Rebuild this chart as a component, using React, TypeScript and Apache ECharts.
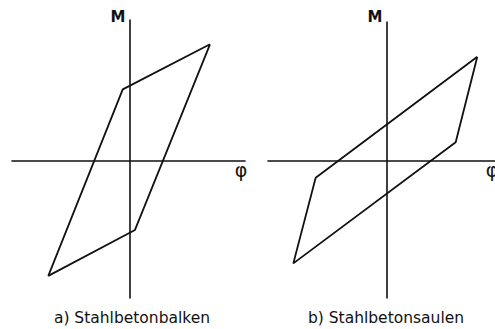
import React, { useEffect, useRef } from "react";
import * as echarts from "echarts";

// Panel a) Stahlbetonbalken: hysteresis loop vertices [phi, M] (relative units)
const beamLoop: [number, number][] = [
  [1.0, 1.0],
  [-0.084, 0.613],
  [-1.009, -0.99],
  [0.068, -0.595],
  [1.0, 1.0],
];
// Panel b) Stahlbetonsaulen
const columnLoop: [number, number][] = [
  [1.0, 1.0],
  [0.762, 0.177],
  [-1.026, -0.987],
  [-0.78, -0.163],
  [1.0, 1.0],
];
const captions = ["a) Stahlbetonbalken", "b) Stahlbetonsaulen"];
const axisNames = { x: "φ", y: "M" };

const FONT = '"DejaVu Sans", sans-serif';

export default function App() {
  const ref = useRef<HTMLDivElement>(null);
  useEffect(() => {
    if (!ref.current) return;
    const chart = echarts.init(ref.current, undefined, { renderer: "svg" });
    const axisLine = { show: true, onZero: true, lineStyle: { color: "#111", width: 1.6 } };
    const common = {
      type: "value" as const,
      axisTick: { show: false },
      axisLabel: { show: false },
      splitLine: { show: false },
      axisLine,
    };
    const xName = (gap: number) => ({
      name: axisNames.x,
      nameLocation: "end" as const,
      nameGap: gap,
      nameTextStyle: {
        fontFamily: FONT,
        fontSize: 19,
        color: "#111",
        align: "center",
        verticalAlign: "top",
        lineHeight: 18,
      },
    });
    const yName = (gap: number) => ({
      name: axisNames.y,
      nameLocation: "end" as const,
      nameGap: gap,
      nameTextStyle: {
        fontFamily: FONT,
        fontSize: 15,
        fontWeight: "bold",
        color: "#111",
        align: "right",
        verticalAlign: "bottom",
        lineHeight: 14,
        padding: [0, 4, 0, 0],
      },
    });
    const captionStyle = (text: string) => ({
      text,
      font: `15.5px ${FONT}`,
      fill: "#111",
      align: "center",
      verticalAlign: "middle",
      textAlign: "center",
      textVerticalAlign: "middle",
    });
    chart.setOption({
      animation: false,
      backgroundColor: "#fff",
      grid: [
        { left: 12, right: 250, top: 20, bottom: 31, containLabel: false, outerBoundsMode: "none" },
        { left: 268, right: 0, top: 22, bottom: 31, containLabel: false, outerBoundsMode: "none" },
      ],
      xAxis: [
        { ...common, gridIndex: 0, min: -1.46, max: 1.435, ...xName(-4) },
        { ...common, gridIndex: 1, min: -1.305, max: 1.195, ...xName(-3) },
      ],
      yAxis: [
        { ...common, gridIndex: 0, min: -1.18, max: 1.209, ...yName(-4) },
        { ...common, gridIndex: 1, min: -1.32, max: 1.334, ...yName(-2) },
      ],
      series: [
        {
          type: "line",
          xAxisIndex: 0,
          yAxisIndex: 0,
          data: beamLoop,
          symbol: "none",
          lineStyle: { color: "#111", width: 1.8 },
        },
        {
          type: "line",
          xAxisIndex: 1,
          yAxisIndex: 1,
          data: columnLoop,
          symbol: "none",
          lineStyle: { color: "#111", width: 1.8 },
        },
      ],
      graphic: [
        { type: "text", x: 132, y: 318, style: captionStyle(captions[0]) },
        { type: "text", x: 386, y: 318, style: captionStyle(captions[1]) },
      ],
    });
    return () => chart.dispose();
  }, []);
  return (
    <div
      ref={ref}
      style={{ position: "fixed", left: 0, top: 0, width: 495, height: 329 }}
    />
  );
}
